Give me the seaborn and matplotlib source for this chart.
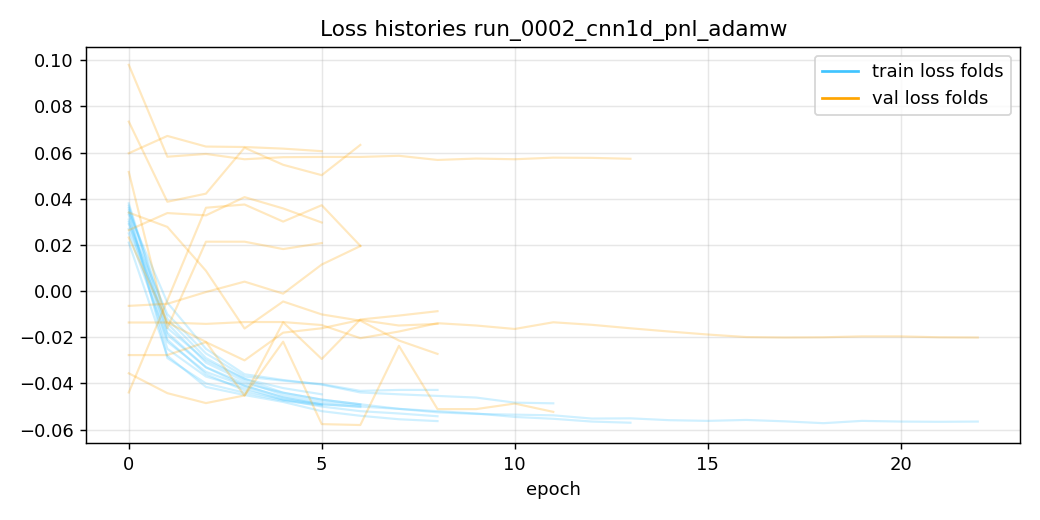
import pandas as pd
import matplotlib
matplotlib.use("Agg")
import matplotlib.pyplot as plt
import seaborn as sns
from matplotlib.lines import Line2D

# ============ Data ============

RUN_NAME = "run_0002_cnn1d_pnl_adamw"

train_fold_a = [0.036, -0.012, -0.029, -0.038, -0.044, -0.047, -0.049, -0.051, -0.052, -0.053, -0.0545, -0.0553, -0.0565, -0.057]
train_fold_b = [0.038, -0.016, -0.030, -0.038, -0.042, -0.0447]
train_fold_c = [0.037, -0.019, -0.033, -0.040, -0.044, -0.047, -0.0490]
train_fold_d = [0.035, -0.029, -0.040, -0.044, -0.0475, -0.0495]
train_fold_e = [0.029, -0.010, -0.027, -0.037, -0.0388, -0.0403, -0.0432, -0.0428, -0.0428]
train_fold_f = [0.030, -0.025, -0.037, -0.042, -0.047, -0.049]
train_fold_g = [0.033, -0.022, -0.035, -0.041, -0.046, -0.049, -0.0502]
train_fold_h = [0.021, -0.028, -0.0415, -0.045, -0.048, -0.052, -0.054, -0.0555, -0.0563]
train_fold_i = [0.027, -0.014, -0.031, -0.039, -0.045, -0.048, -0.0495]
train_fold_j = [0.031, -0.018, -0.033, -0.041, -0.046, -0.049, -0.050, -0.051, -0.0525, -0.0532,
                -0.0535, -0.0538, -0.0552, -0.0551, -0.0559, -0.0562, -0.0558, -0.0564, -0.0572,
                -0.0562, -0.0565, -0.0566, -0.0565]
train_fold_k = [0.025, -0.021, -0.036, -0.043, -0.047, -0.050, -0.052, -0.053, -0.0542]
train_fold_l = [0.034, -0.005, -0.025, -0.036, -0.0385, -0.0405, -0.0439, -0.0447, -0.0454, -0.0461, -0.0483, -0.0486]

val_fold_a = [0.098, 0.0582, 0.0594, 0.0571, 0.058, 0.0581, 0.0581, 0.0586, 0.0568, 0.0574, 0.0571, 0.0578, 0.0577, 0.0573]
val_fold_b = [0.0597, 0.0672, 0.0626, 0.0624, 0.0617, 0.0606]
val_fold_c = [0.0734, 0.0387, 0.0422, 0.0621, 0.0547, 0.0502, 0.0633]
val_fold_d = [0.0516, -0.016, 0.0214, 0.0214, 0.0182, 0.0208]
val_fold_e = [0.034, 0.0278, 0.0088, -0.0162, -0.0045, -0.0101, -0.0128, -0.0214, -0.0272]
val_fold_f = [0.0264, 0.0338, 0.0328, 0.0407, 0.0358, 0.0297]
val_fold_g = [-0.0439, -0.0040, 0.0361, 0.0375, 0.0301, 0.0372, 0.0196]
val_fold_h = [0.0232, -0.0136, -0.022, -0.0453, -0.0135, -0.0294, -0.0123, -0.0106, -0.0087]
val_fold_i = [-0.0064, -0.0055, -0.0004, 0.0041, -0.0011, 0.0115, 0.0195]
val_fold_j = [-0.0136, -0.0136, -0.0142, -0.0134, -0.0134, -0.0147, -0.0204, -0.0175, -0.0139,
              -0.0149, -0.0164, -0.0135, -0.0146, -0.0161, -0.0175, -0.0188, -0.0199, -0.0201,
              -0.0200, -0.0196, -0.0196, -0.0200, -0.0201]
val_fold_k = [-0.0277, -0.0277, -0.0221, -0.0300, -0.0180, -0.0161, -0.0125, -0.0149, -0.0142]
val_fold_l = [-0.0356, -0.0442, -0.0485, -0.0452, -0.0219, -0.0576, -0.0580, -0.0237, -0.0511, -0.0511, -0.0487, -0.0523]

train_folds = [train_fold_a, train_fold_b, train_fold_c, train_fold_d, train_fold_e, train_fold_f,
               train_fold_g, train_fold_h, train_fold_i, train_fold_j, train_fold_k, train_fold_l]
val_folds = [val_fold_a, val_fold_b, val_fold_c, val_fold_d, val_fold_e, val_fold_f,
             val_fold_g, val_fold_h, val_fold_i, val_fold_j, val_fold_k, val_fold_l]

# ============ Plotting ============

TRAIN_COLOR = "#40C4FF"
VAL_COLOR = "orange"
FOLD_ALPHA = 0.25


def to_long(folds, kind):
    rows = []
    for k, vals in enumerate(folds):
        for epoch, v in enumerate(vals):
            rows.append({"fold": f"{kind}_{k}", "epoch": epoch, "loss": v})
    return pd.DataFrame(rows)


df_train = to_long(train_folds, "train")
df_val = to_long(val_folds, "val")

fig, ax = plt.subplots(figsize=(8, 4), dpi=130)

sns.lineplot(data=df_train, x="epoch", y="loss", units="fold", estimator=None,
             color=TRAIN_COLOR, alpha=FOLD_ALPHA, lw=1.2, ax=ax, legend=False)
sns.lineplot(data=df_val, x="epoch", y="loss", units="fold", estimator=None,
             color=VAL_COLOR, alpha=FOLD_ALPHA, lw=1.2, ax=ax, legend=False)

handles = [Line2D([0], [0], color=TRAIN_COLOR, lw=1.5),
           Line2D([0], [0], color=VAL_COLOR, lw=1.5)]
ax.legend(handles, ["train loss folds", "val loss folds"], loc="upper right")

ax.set_title(f"Loss histories {RUN_NAME}")
ax.set_xlabel("epoch")
ax.set_ylabel("")
ax.grid(True, alpha=0.3)

fig.subplots_adjust(left=0.083, right=0.981, top=0.91, bottom=0.148)
fig.savefig("out.png", dpi=130)
